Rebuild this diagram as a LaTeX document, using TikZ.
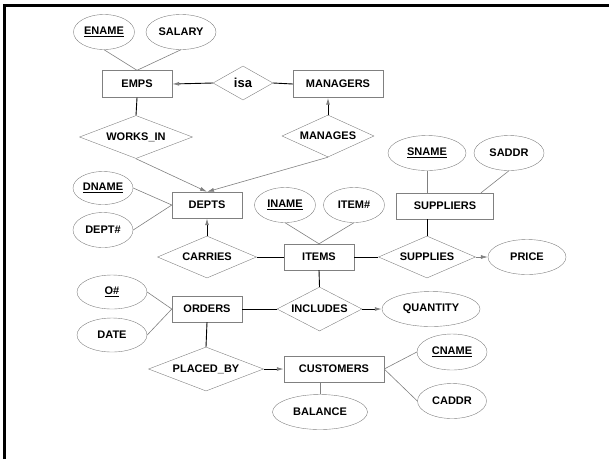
\documentclass[tikz,border=0pt]{standalone}
\usepackage{fontspec}
\setmainfont{Liberation Sans}
\usetikzlibrary{shapes.geometric,arrows.meta}
\begin{document}
\begin{tikzpicture}[x=1pt,y=-1pt,
  font=\fontsize{11}{13}\selectfont\bfseries,
  ent/.style={rectangle,draw=gray,inner sep=0pt},
  rel/.style={diamond,draw=gray,inner sep=0pt},
  attr/.style={ellipse,draw=gray,inner sep=0pt},
  link/.style={black,line width=0.9pt},
  att/.style={gray,line width=0.6pt},
  tip/.style={-{Latex[length=7pt,width=4pt,color=gray]}}]
\useasboundingbox (0,0) rectangle (609,459);
\draw[line width=3pt] (4.5,459) -- (4.5,5.5) -- (609,5.5);

\node(EN) at (104,32) [attr,minimum width=61,minimum height=35]{\underline{ENAME}};
\node(SAL) at (181,32) [attr,minimum width=70,minimum height=35]{SALARY};
\node(EMPS) at (137,84) [ent,minimum width=70,minimum height=27]{EMPS};
\node(ISA) at (243,83) [rel,aspect=1.76,minimum width=60,minimum height=34]{\fontsize{13}{15}\selectfont isa};
\node(MGRS) at (338,84) [ent,minimum width=90,minimum height=27]{MANAGERS};
\node(WI) at (136,137) [rel,aspect=2.63,minimum width=113,minimum height=43]{WORKS\_IN};
\node(MG) at (328,136) [rel,aspect=2.19,minimum width=92,minimum height=42]{MANAGES};

\node(DN) at (103,188) [attr,minimum width=60,minimum height=33]{\underline{DNAME}};
\node(DNO) at (103,230) [attr,minimum width=60,minimum height=35]{DEPT\#};
\node(DEPTS) at (207,205) [ent,minimum width=70,minimum height=26]{DEPTS};
\node(IN) at (285,205) [attr,minimum width=61,minimum height=35]{\underline{INAME}};
\node(INO) at (354,205) [attr,minimum width=61,minimum height=35]{ITEM\#};
\node(SN) at (427,153) [attr,minimum width=78,minimum height=35]{\underline{SNAME}};
\node(SAD) at (509,153) [attr,minimum width=70,minimum height=35]{SADDR};
\node(SUPS) at (445,206) [ent,minimum width=97,minimum height=26]{SUPPLIERS};

\node(CAR) at (207,257) [rel,aspect=2.36,minimum width=99,minimum height=42]{CARRIES};
\node(ITEMS) at (319,257) [ent,minimum width=70,minimum height=26]{ITEMS};
\node(SUP) at (427,257) [rel,aspect=2.31,minimum width=97,minimum height=42]{SUPPLIES};
\node(PR) at (527,257) [attr,minimum width=78,minimum height=35]{PRICE};

\node(ON) at (112,292) [attr,minimum width=70,minimum height=34]{\underline{O\#}};
\node(DT) at (112,335) [attr,minimum width=70,minimum height=34]{DATE};
\node(ORD) at (207,309) [ent,minimum width=70,minimum height=26]{ORDERS};
\node(INC) at (319.5,309) [rel,aspect=1.93,minimum width=85,minimum height=44]{INCLUDES};
\node(QTY) at (431,309) [attr,minimum width=98,minimum height=35]{QUANTITY};

\node(PB) at (206,369) [rel,aspect=2.61,minimum width=115,minimum height=44]{PLACED\_BY};
\node(CUST) at (334,369) [ent,minimum width=100,minimum height=26]{CUSTOMERS};
\node(CN) at (452,352) [attr,minimum width=70,minimum height=36]{\underline{CNAME}};
\node(CAD) at (452,401) [attr,minimum width=69,minimum height=35]{CADDR};
\node(BAL) at (320,412) [attr,minimum width=95,minimum height=35]{BALANCE};

\draw[att] (EN.south) -- (EMPS.north);
\draw[att] (SAL.south) -- (EMPS.north);
\draw[link] (EMPS.south) -- (WI.north);
\draw[link,tip] (ISA.west) -- (EMPS.east);
\draw[link] (ISA.east) -- (MGRS.west);
\draw[link,tip] (MG.north) -- (MG.north |- MGRS.south);
\draw[att,tip] (WI.south) -- (DEPTS.north);
\draw[att,tip] (MG.south) -- (DEPTS.north);
\draw[att] (DN.east) -- (DEPTS.west);
\draw[att] (DNO.east) -- (DEPTS.west);
\draw[link,tip] (CAR.north) -- (DEPTS.south);
\draw[link] (CAR.east) -- (ITEMS.west);
\draw[att] (IN.south) -- (ITEMS.north);
\draw[att] (INO.south) -- (ITEMS.north);
\draw[att] (SN.south) -- (SN.south |- SUPS.north);
\draw[att] (SAD.south) -- ([xshift=36pt]SUPS.north);
\draw[link] (SUP.north |- SUPS.south) -- (SUP.north);
\draw[link] (ITEMS.east) -- (SUP.west);
\draw[att,tip] (SUP.east) -- (PR.west);
\draw[link] (ITEMS.south) -- (INC.north);
\draw[link] (ORD.east) -- (INC.west);
\draw[link,tip] (INC.east) -- (QTY.west);
\draw[att] (ON.east) -- (ORD.west);
\draw[att] (DT.east) -- (ORD.west);
\draw[link] (ORD.south) -- (PB.north);
\draw[link,tip] (PB.east) -- (CUST.west);
\draw[att] (BAL.north) -- (BAL.north |- CUST.south);
\draw[att] (CUST.east) -- (CN.west);
\draw[att] (CUST.east) -- (CAD.west);

\end{tikzpicture}
\end{document}
